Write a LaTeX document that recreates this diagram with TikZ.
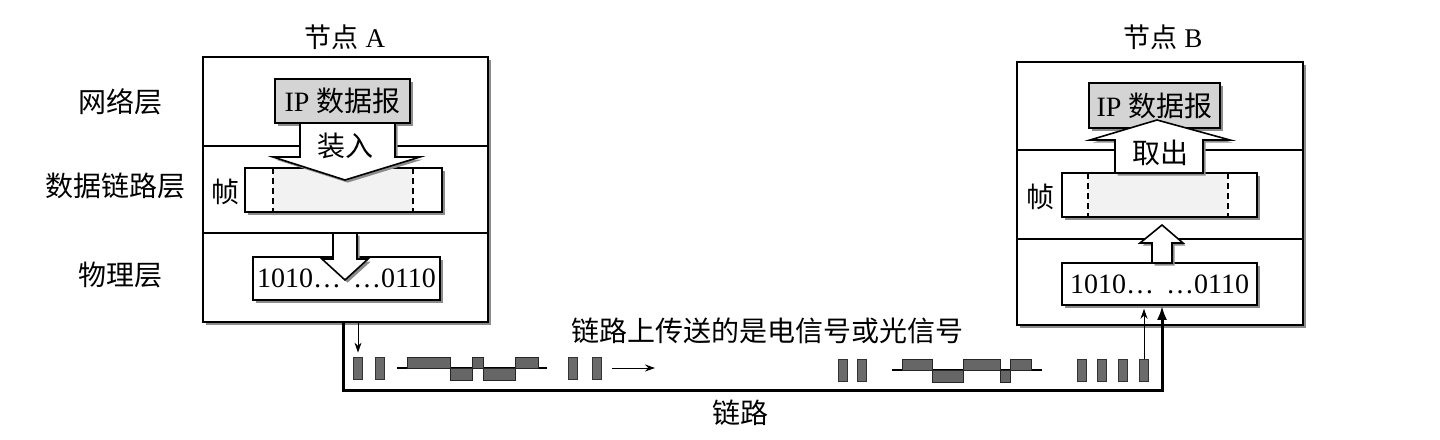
\documentclass[tikz,border=0pt]{standalone}
\usepackage{fontspec}
\setmainfont{Liberation Serif}
\newfontfamily\cjk{Noto Sans CJK SC}
\usetikzlibrary{arrows.meta,shadows}
\tikzset{
  shd/.style={drop shadow={shadow xshift=1.3pt,shadow yshift=-1.3pt,fill=black!45,opacity=1}},
  outer/.style={draw=black,line width=0.7pt,fill=white,inner sep=0pt,shd},
  inbox/.style={draw=black,line width=0.8pt,fill=white,inner sep=0pt,shd,font=\fontsize{14pt}{16pt}\selectfont},
  bigarrow/.style={draw=black,line width=0.8pt,fill=white,shd},
  lbl/.style={inner sep=0pt,font=\fontsize{14pt}{16pt}\selectfont\cjk},
  ttl/.style={inner sep=0pt,font=\fontsize{13.5pt}{15pt}\selectfont},
  divider/.style={line width=0.6pt},
  dashln/.style={line width=0.6pt,dash pattern=on 3pt off 2pt},
  bar/.style={draw=black!80,fill=black!58,line width=0.4pt,minimum width=4.5pt,minimum height=11pt,inner sep=0pt},
  pulse/.style={draw=black!85,fill=black!60,line width=0.5pt},
  link/.style={line width=1.5pt},
  thinarrow/.style={line width=0.5pt,-{Stealth[length=5pt,width=3.5pt]}}
}
\begin{document}
\begin{tikzpicture}[x=0.5pt,y=-0.5pt]
\useasboundingbox (0,0) rectangle (1440,439);

% titles and layer labels
\node[ttl] (tA) at (345,37) {{\cjk 节点} A};
\node[ttl] (tB) at (1163,37) {{\cjk 节点} B};
\node[lbl] (l1) at (120,102) {网络层};
\node[lbl] (l2) at (116,186) {数据链路层};
\node[lbl] (l3) at (120,275) {物理层};

% outer boxes
\node[outer,minimum width=142.5pt,minimum height=132.5pt] (nodeA) at (345.5,189.5) {};
\node[outer,minimum width=143pt,minimum height=131.5pt] (nodeB) at (1160,193.5) {};
\draw[divider] (nodeA.west |- 0,146) -- (nodeA.east |- 0,146);
\draw[divider] (nodeA.west |- 0,233) -- (nodeA.east |- 0,233);
\draw[divider] (nodeB.west |- 0,150) -- (nodeB.east |- 0,150);
\draw[divider] (nodeB.west |- 0,239) -- (nodeB.east |- 0,239);

% ---------- node A ----------
\node[inbox,fill=black!17,minimum width=67.5pt,minimum height=22pt] (ipA) at (342.5,101) {IP {\cjk 数据报}};
\node[inbox,minimum width=98.5pt,minimum height=22pt] (frameA) at (343.5,190) {};
\fill[black!5] (273,169) rectangle (413,211);
\draw[dashln] (273,168) -- (273,212);
\draw[dashln] (413,168) -- (413,212);
\node[lbl] (fA) at (225,192) {帧};
\draw[bigarrow] (300,123) -- (395,123) -- (395,157) -- (420,157) -- (345,180) -- (273,157) -- (300,157) -- cycle;
\node[lbl] (inA) at (345,146) {装入};
\node[inbox,minimum width=93.5pt,minimum height=21.5pt] (bitsA) at (346.5,278.5) {1010…\hspace{6pt}…0110};
\draw[bigarrow] (333,233) -- (357,233) -- (357,259) -- (368,259) -- (345,280) -- (322,259) -- (333,259) -- cycle;

% ---------- node B ----------
\node[inbox,fill=black!17,minimum width=65.5pt,minimum height=22.5pt] (ipB) at (1154.5,105.5) {IP {\cjk 数据报}};
\node[inbox,minimum width=97.5pt,minimum height=22pt] (frameB) at (1159.5,195) {};
\fill[black!5] (1088,174) rectangle (1228,216);
\draw[dashln] (1088,173) -- (1088,217);
\draw[dashln] (1228,173) -- (1228,217);
\node[lbl] (fB) at (1040,197) {帧};
\draw[bigarrow] (1115,173) -- (1203,173) -- (1203,140) -- (1230,140) -- (1157,120) -- (1090,140) -- (1115,140) -- cycle;
\node[lbl] (outB) at (1160,153) {取出};
\node[inbox,minimum width=97.5pt,minimum height=21pt] (bitsB) at (1159.5,284) {1010…\hspace{6pt}…0110};
\draw[bigarrow] (1152,263) -- (1172,263) -- (1172,243) -- (1183,243) -- (1162,225) -- (1140,243) -- (1152,243) -- cycle;

% ---------- link ----------
\draw[link,-{Latex[length=7pt,width=5pt]}] ([xshift=-1.25pt]nodeA.south) -- ++(0,68) -| ([xshift=1.25pt]bitsB.south);
\node[lbl] (sig) at (767,331) {链路上传送的是电信号或光信号};
\node[lbl] (lk) at (740,413) {链路};

% bits on the line (left)
\node[bar] (bA1) at (358,368) {};
\node[bar] (bA2) at (380,368) {};
\node[bar] (bA3) at (573,368) {};
\node[bar] (bA4) at (597,368) {};
\draw[thinarrow] (nodeA.south -| bA1) -- ([yshift=2pt]bA1.north);
\draw[line width=0.6pt] (397,368) -- (547,368);
\draw[pulse] (407,357) rectangle (450,368);
\draw[pulse] (472,357) rectangle (483,368);
\draw[pulse] (515,357) rectangle (538,368);
\draw[pulse] (450,368) rectangle (472,380);
\draw[pulse] (483,368) rectangle (515,380);
\coordinate (mv1) at (612,368);
\coordinate (mv2) at (655,368);
\draw[thinarrow] (mv1) -- (mv2);

% bits on the line (right)
\node[bar] (bB1) at (842.5,370) {};
\node[bar] (bB2) at (861.5,370) {};
\node[bar] (bB3) at (1081.5,370) {};
\node[bar] (bB4) at (1101.5,370) {};
\node[bar] (bB5) at (1122.5,370) {};
\node[bar] (bB6) at (1144,370) {};
\draw[line width=0.6pt] (892,370) -- (1042,370);
\draw[pulse] (902,359) rectangle (932,370);
\draw[pulse] (963,359) rectangle (1000,370);
\draw[pulse] (1010,359) rectangle (1031,370);
\draw[pulse] (932,370) rectangle (963,382);
\draw[pulse] (1000,370) rectangle (1010,382);
\draw[thinarrow] (bB6.north) -- ([yshift=-1.5pt]bitsB.south -| bB6);
\end{tikzpicture}
\end{document}
